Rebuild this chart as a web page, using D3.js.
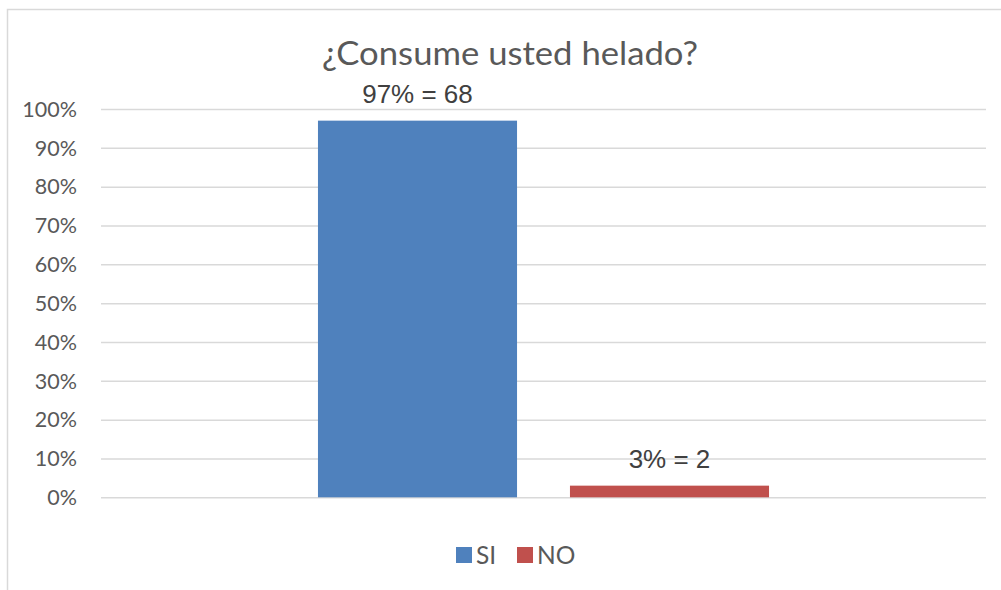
<!DOCTYPE html>
<html>
<head>
<meta charset="utf-8">
<script src="https://cdn.jsdelivr.net/npm/d3@7"></script>
<style>
  html, body { margin: 0; padding: 0; background: #fff; }
  svg { display: block; }
</style>
</head>
<body>
<svg id="chart" width="1001" height="590"></svg>
<script>
// ---- data ----
const title = "¿Consume usted helado?";
const categories = ["Consume"];
const seriesNames = ["SI", "NO"];
const seriesValues = [0.97, 0.03];
const seriesCounts = [68, 2];
const seriesColors = ["#4F81BD", "#C0504D"];
const yTicks = [0, 0.1, 0.2, 0.3, 0.4, 0.5, 0.6, 0.7, 0.8, 0.9, 1.0];

// ---- layout ----
const svg = d3.select("#chart");
const plot = { left: 101, right: 986, top: 109, bottom: 497.3 };
const textColor = "#595959";
const gridColor = "#D9D9D9";
const labelFont = "'Liberation Sans', Arial, sans-serif";
const uiFont = "Lato, 'Open Sans', sans-serif";

// chart border
svg.append("rect")
  .attr("x", 7.5).attr("y", 9.5)
  .attr("width", 1100).attr("height", 700)
  .attr("fill", "#fff")
  .attr("stroke", gridColor).attr("stroke-width", 1.5);

const y = d3.scaleLinear().domain([0, 1]).range([plot.bottom, plot.top]);
const x0 = d3.scaleBand().domain(categories).range([plot.left, plot.right]).paddingOuter(0.481).paddingInner(0);
const x1 = d3.scaleBand().domain(seriesNames).range([0, x0.bandwidth()]).paddingInner(0.21).paddingOuter(0);

// gridlines + y axis labels via d3 axis
const yAxis = d3.axisLeft(y).tickValues(yTicks).tickFormat(d3.format(".0%"))
  .tickSize(-(plot.right - plot.left)).tickPadding(24);
const gy = svg.append("g").attr("transform", `translate(${plot.left},0)`).call(yAxis);
gy.select(".domain").remove();
gy.selectAll(".tick line").attr("stroke", gridColor).attr("stroke-width", 1.5);
gy.selectAll(".tick text")
  .attr("fill", textColor)
  .attr("font-family", uiFont)
  .attr("font-size", 21.5)
  .attr("dy", "0.34em");

// bars
const data = seriesNames.map((s, i) => ({ name: s, value: seriesValues[i], count: seriesCounts[i], color: seriesColors[i] }));
const g = svg.append("g").attr("transform", `translate(${x0(categories[0])},0)`);
g.selectAll("rect.bar").data(data).join("rect")
  .attr("class", "bar")
  .attr("x", d => x1(d.name))
  .attr("width", x1.bandwidth())
  .attr("y", d => y(d.value))
  .attr("height", d => y(0) - y(d.value))
  .attr("fill", d => d.color);

// data labels
g.selectAll("text.lbl").data(data).join("text")
  .attr("class", "lbl")
  .attr("x", d => x1(d.name) + x1.bandwidth() / 2)
  .attr("y", d => y(d.value) - 17.5)
  .attr("text-anchor", "middle")
  .attr("fill", "#404040")
  .attr("font-family", labelFont)
  .attr("font-size", 26)
  .text(d => `${Math.round(d.value * 100)}% = ${d.count}`);

// title
svg.append("text")
  .attr("x", 510).attr("y", 65)
  .attr("text-anchor", "middle")
  .attr("fill", textColor)
  .attr("font-family", uiFont)
  .attr("font-size", 32)
  .attr("textLength", 376)
  .attr("lengthAdjust", "spacingAndGlyphs")
  .text(title);

// legend
const legendItems = [{ x: 456 }, { x: 517 }];
const lg = svg.append("g");
data.forEach((d, i) => {
  lg.append("rect")
    .attr("x", legendItems[i].x).attr("y", 547)
    .attr("width", 16).attr("height", 16)
    .attr("fill", d.color);
  lg.append("text")
    .attr("x", legendItems[i].x + 20).attr("y", 563.5)
    .attr("fill", textColor)
    .attr("font-family", uiFont)
    .attr("font-size", 24.5)
    .text(d.name);
});
</script>
</body>
</html>
